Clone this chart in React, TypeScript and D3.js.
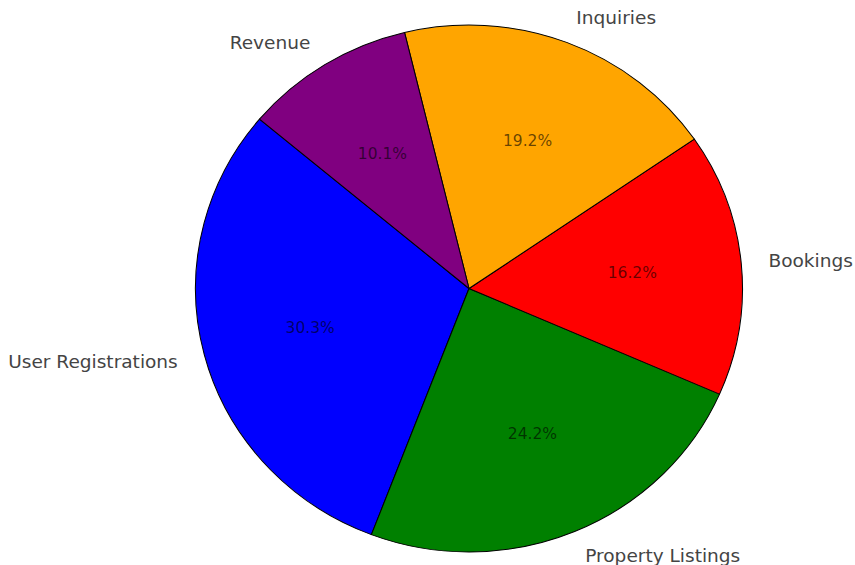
import React from "react";
import * as d3 from "d3";

const categories = ["User Registrations", "Property Listings", "Bookings", "Inquiries", "Revenue"];
const values = [30, 24, 16, 19, 10];
const colors = ["blue", "green", "red", "orange", "purple"];

const W = 855;
const H = 565;
const cx = 469;
const cy = 288.5;
const ry = 263.5;
const rx = 273.5;
const startDeg = 140;

export default function App() {
  const pie = d3
    .pie<number>()
    .sort(null)
    .value((d) => d)
    .startAngle(((90 - startDeg) * Math.PI) / 180)
    .endAngle(((90 - startDeg - 360) * Math.PI) / 180);
  const arcs = pie(values);
  const arc = d3.arc<d3.PieArcDatum<number>>().innerRadius(0).outerRadius(ry);
  const total = d3.sum(values);
  const sx = rx / ry;

  return (
    <svg width={W} height={H} style={{ position: "absolute", left: 0, top: 0, background: "#fff" }}
      fontFamily="DejaVu Sans, sans-serif">
      <g transform={`translate(${cx},${cy}) scale(${sx},1)`}>
        {arcs.map((a, i) => (
          <path key={i} d={arc(a) || ""} fill={colors[i]} stroke="#000" strokeWidth={1} strokeLinejoin="round" />
        ))}
      </g>
      {arcs.map((a, i) => {
        const m = (a.startAngle + a.endAngle) / 2;
        const ux = Math.sin(m);
        const uy = -Math.cos(m);
        const lx = cx + 1.1 * rx * ux;
        const ly = cy + 1.1 * ry * uy;
        const px = cx + 0.6 * rx * ux;
        const py = cy + 0.6 * ry * uy;
        const pct = ((values[i] / total) * 100).toFixed(1) + "%";
        return (
          <g key={i}>
            <text x={lx} y={ly} textAnchor={ux > 0 ? "start" : "end"} dominantBaseline="central"
              fontSize={18} fill="#444" transform={`translate(${lx},${ly}) scale(1.03,1) translate(${-lx},${-ly})`}>{categories[i]}</text>
            <text x={px} y={py} textAnchor="middle" dominantBaseline="central" fontSize={15.5} fill="#000" fillOpacity={0.6}>{pct}</text>
          </g>
        );
      })}
    </svg>
  );
}
